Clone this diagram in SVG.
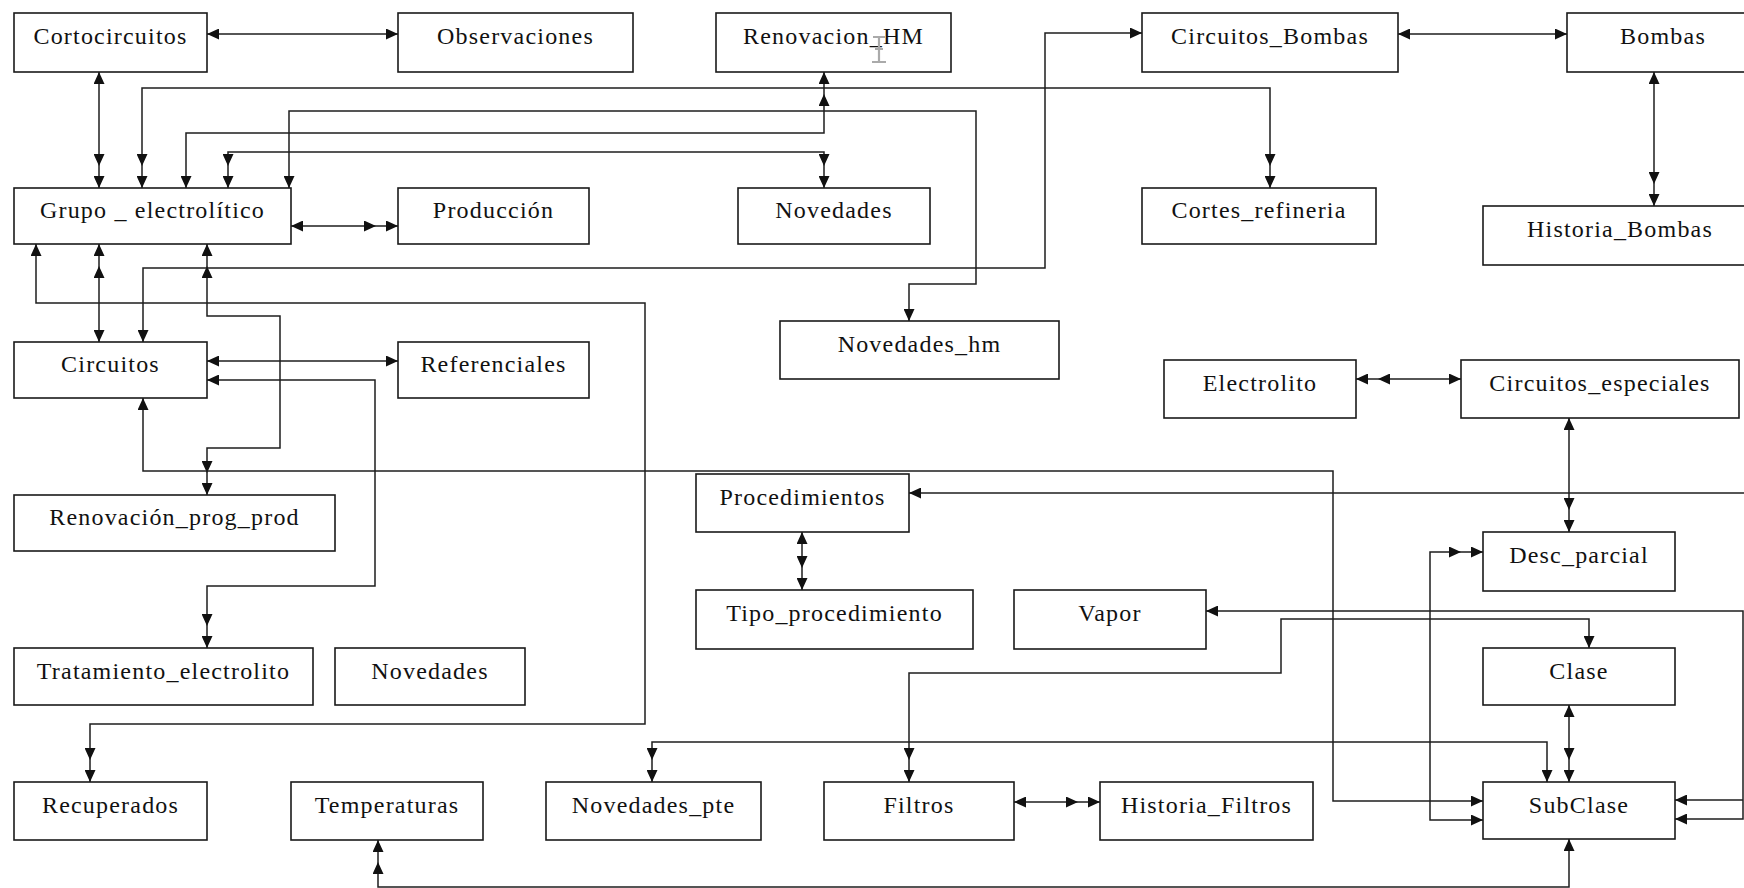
<svg xmlns="http://www.w3.org/2000/svg" width="1744" height="888" viewBox="0 0 1744 888">
<style>
.n rect{fill:#fff;stroke:#1a1a1a;stroke-width:1.6}
.n text{font-family:"Liberation Serif","Times New Roman",serif;font-size:24px;letter-spacing:1.2px;fill:#111;text-anchor:middle}
#connectors path{fill:none;stroke:#1e1e1e;stroke-width:1.5}
</style>
<defs>
<marker id="a" viewBox="0 0 12 11" refX="12" refY="5.5" markerWidth="12" markerHeight="11" markerUnits="userSpaceOnUse" orient="auto-start-reverse"><path d="M0,0 L12,5.5 L0,11 z" fill="#111"/></marker>
<marker id="d" viewBox="0 0 34 11" refX="34" refY="5.5" markerWidth="34" markerHeight="11" markerUnits="userSpaceOnUse" orient="auto-start-reverse"><path d="M22,0 L34,5.5 L22,11 z M0,0 L12,5.5 L0,11 z" fill="#111"/></marker>
</defs>
<rect width="1744" height="888" fill="#fff"/>
<g id="connectors">
<path d="M207,34 H398" marker-start="url(#a)" marker-end="url(#a)"/>
<path d="M99,72 V188" marker-start="url(#a)" marker-end="url(#d)"/>
<path d="M291,226 H398" marker-start="url(#a)" marker-end="url(#d)"/>
<path d="M142,188 V88 H1270 V188" marker-start="url(#d)" marker-end="url(#d)"/>
<path d="M289,188 V111 H976 V284 H909 V321" marker-start="url(#a)" marker-end="url(#a)"/>
<path d="M186,188 V133 H824 V72" marker-start="url(#a)" marker-end="url(#d)"/>
<path d="M228,188 V152 H824 V188" marker-start="url(#d)" marker-end="url(#d)"/>
<path d="M36,244 V303 H645 V724 H90 V782" marker-start="url(#a)" marker-end="url(#d)"/>
<path d="M99,244 V342" marker-start="url(#d)" marker-end="url(#a)"/>
<path d="M207,244 V316 H280 V448 H207 V495" marker-start="url(#d)" marker-end="url(#d)"/>
<path d="M143,342 V268 H1045 V33 H1142" marker-start="url(#a)" marker-end="url(#a)"/>
<path d="M207,361 H398" marker-start="url(#a)" marker-end="url(#a)"/>
<path d="M207,380 H375 V586 H207 V648" marker-start="url(#a)" marker-end="url(#d)"/>
<path d="M143,398 V471 H1333 V801 H1483" marker-start="url(#a)" marker-end="url(#a)"/>
<path d="M1744,493 H909" marker-end="url(#a)"/>
<path d="M802,532 V590" marker-start="url(#a)" marker-end="url(#d)"/>
<path d="M1356,379 H1461" marker-start="url(#d)" marker-end="url(#a)"/>
<path d="M1569,418 V532" marker-start="url(#a)" marker-end="url(#d)"/>
<path d="M1483,820 H1430 V552 H1483" marker-start="url(#a)" marker-end="url(#d)"/>
<path d="M1206,611 H1743 V819 H1675" marker-start="url(#a)" marker-end="url(#a)"/>
<path d="M1743,800 H1675" marker-end="url(#a)"/>
<path d="M1589,648 V619 H1281 V673 H909 V782" marker-start="url(#a)" marker-end="url(#d)"/>
<path d="M1569,705 V782" marker-start="url(#a)" marker-end="url(#d)"/>
<path d="M652,782 V742 H1547 V782" marker-start="url(#d)" marker-end="url(#a)"/>
<path d="M1014,802 H1100" marker-start="url(#a)" marker-end="url(#d)"/>
<path d="M1569,839 V887 H378 V840" marker-start="url(#a)" marker-end="url(#d)"/>
<path d="M1654,72 V206" marker-start="url(#a)" marker-end="url(#d)"/>
<path d="M1398,34 H1567" marker-start="url(#a)" marker-end="url(#a)"/>
</g>
<g id="n-cortocircuitos" class="n"><rect x="14" y="13" width="193" height="59"/><text x="110.5" y="44">Cortocircuitos</text></g>
<g id="n-observaciones" class="n"><rect x="398" y="13" width="235" height="59"/><text x="515.5" y="44">Observaciones</text></g>
<g id="n-renovacion-hm" class="n"><rect x="716" y="13" width="235" height="59"/><text x="833.5" y="44">Renovacion_HM</text></g>
<g id="n-circuitos-bombas" class="n"><rect x="1142" y="13" width="256" height="59"/><text x="1270" y="44">Circuitos_Bombas</text></g>
<g id="n-bombas" class="n"><rect x="1567" y="13" width="193" height="59"/><text x="1663" y="44">Bombas</text></g>
<g id="n-grupo" class="n"><rect x="14" y="188" width="277" height="56"/><text x="152.5" y="218">Grupo _ electrolítico</text></g>
<g id="n-produccion" class="n"><rect x="398" y="188" width="191" height="56"/><text x="493.5" y="218">Producción</text></g>
<g id="n-novedades" class="n"><rect x="738" y="188" width="192" height="56"/><text x="834" y="218">Novedades</text></g>
<g id="n-cortes-refineria" class="n"><rect x="1142" y="188" width="234" height="56"/><text x="1259" y="218">Cortes_refineria</text></g>
<g id="n-historia-bombas" class="n"><rect x="1483" y="206" width="274" height="59"/><text x="1620" y="237">Historia_Bombas</text></g>
<g id="n-circuitos" class="n"><rect x="14" y="342" width="193" height="56"/><text x="110.5" y="372">Circuitos</text></g>
<g id="n-referenciales" class="n"><rect x="398" y="342" width="191" height="56"/><text x="493.5" y="372">Referenciales</text></g>
<g id="n-novedades-hm" class="n"><rect x="780" y="321" width="279" height="58"/><text x="919.5" y="352">Novedades_hm</text></g>
<g id="n-electrolito" class="n"><rect x="1164" y="360" width="192" height="58"/><text x="1260" y="391">Electrolito</text></g>
<g id="n-circuitos-especiales" class="n"><rect x="1461" y="360" width="278" height="58"/><text x="1600" y="391">Circuitos_especiales</text></g>
<g id="n-renovacion-prog-prod" class="n"><rect x="14" y="495" width="321" height="56"/><text x="174.5" y="525">Renovación_prog_prod</text></g>
<g id="n-procedimientos" class="n"><rect x="696" y="474" width="213" height="58"/><text x="802.5" y="505">Procedimientos</text></g>
<g id="n-desc-parcial" class="n"><rect x="1483" y="532" width="192" height="59"/><text x="1579" y="563">Desc_parcial</text></g>
<g id="n-tipo-procedimiento" class="n"><rect x="696" y="590" width="277" height="59"/><text x="834.5" y="621">Tipo_procedimiento</text></g>
<g id="n-vapor" class="n"><rect x="1014" y="590" width="192" height="59"/><text x="1110" y="621">Vapor</text></g>
<g id="n-tratamiento-electrolito" class="n"><rect x="14" y="648" width="299" height="57"/><text x="163.5" y="679">Tratamiento_electrolito</text></g>
<g id="n-novedades-2" class="n"><rect x="335" y="648" width="190" height="57"/><text x="430" y="679">Novedades</text></g>
<g id="n-clase" class="n"><rect x="1483" y="648" width="192" height="57"/><text x="1579" y="679">Clase</text></g>
<g id="n-recuperados" class="n"><rect x="14" y="782" width="193" height="58"/><text x="110.5" y="813">Recuperados</text></g>
<g id="n-temperaturas" class="n"><rect x="291" y="782" width="192" height="58"/><text x="387" y="813">Temperaturas</text></g>
<g id="n-novedades-pte" class="n"><rect x="546" y="782" width="215" height="58"/><text x="653.5" y="813">Novedades_pte</text></g>
<g id="n-filtros" class="n"><rect x="824" y="782" width="190" height="58"/><text x="919" y="813">Filtros</text></g>
<g id="n-historia-filtros" class="n"><rect x="1100" y="782" width="213" height="58"/><text x="1206.5" y="813">Historia_Filtros</text></g>
<g id="n-subclase" class="n"><rect x="1483" y="782" width="192" height="57"/><text x="1579" y="813">SubClase</text></g>
<path d="M873,37 H885 M879,37 V62 M875,49 H883 M872,62 H886" fill="none" stroke="#aaa" stroke-width="2.2"/>
</svg>
